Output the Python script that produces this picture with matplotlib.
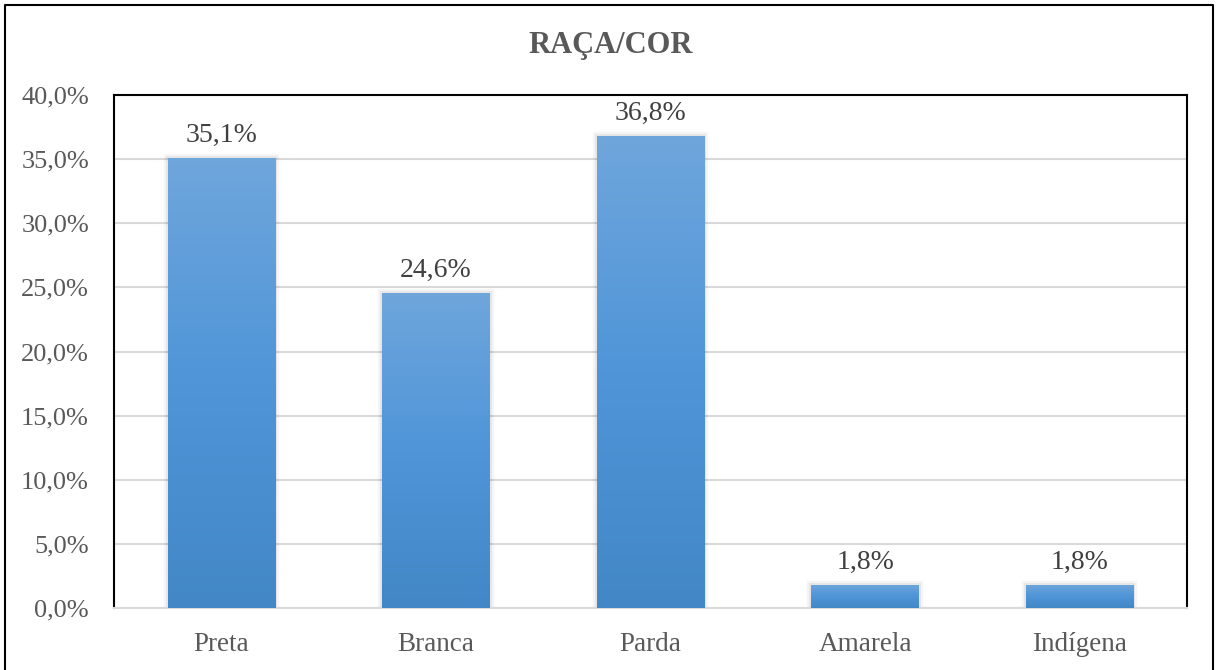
import matplotlib
matplotlib.use("Agg")
import matplotlib.pyplot as plt
import matplotlib.patheffects as pe
from matplotlib.colors import LinearSegmentedColormap
from matplotlib.lines import Line2D
import numpy as np

categories = ["Preta", "Branca", "Parda", "Amarela", "Indígena"]
values = [35.1, 24.6, 36.8, 1.8, 1.8]
yticks = [0, 5, 10, 15, 20, 25, 30, 35, 40]
title = "RAÇA/COR"

plt.rcParams['font.family'] = ['Liberation Serif', 'DejaVu Serif']
txt = '#595959'

fig = plt.figure(figsize=(12.16, 6.70), dpi=100)
ax = fig.add_axes([114/1216, 1-608/670, (1187-114)/1216, (608-95)/670])

x = np.arange(len(categories))
bars = ax.bar(x, values, width=0.5, color='#5b9bd5', zorder=2,
              path_effects=[pe.Stroke(linewidth=6, foreground='black', alpha=0.04),
                            pe.Stroke(linewidth=3, foreground='black', alpha=0.06),
                            pe.Normal()])

cmap = LinearSegmentedColormap.from_list('g', ['#4387c6', '#4f95d8', '#6fa6dc'])
grad = np.linspace(0, 1, 256).reshape(-1, 1)
for b in bars:
    x0, y0 = b.get_x(), b.get_y()
    w, h = b.get_width(), b.get_height()
    im = ax.imshow(grad, cmap=cmap, origin='lower', aspect='auto',
                   extent=[x0, x0 + w, y0, y0 + h], zorder=3)
    im.set_clip_path(b)

for b, v in zip(bars, values):
    ax.annotate(f"{v:.1f}%".replace('.', ','),
                (b.get_x() + b.get_width()/2, b.get_height()),
                xytext=(0, 11.5), textcoords='offset points',
                ha='center', va='baseline', fontsize=20, color='#404040')

ax.set_xlim(-0.5, len(categories) - 0.5)
ax.set_ylim(0, 40)
ax.set_yticks(yticks)
ax.set_yticklabels([f"{t:.1f}%".replace('.', ',') for t in yticks])
ax.set_xticks(x)
ax.set_xticklabels(categories)
ax.tick_params(axis='y', length=0, pad=18, labelsize=19, labelcolor=txt)
ax.tick_params(axis='x', length=0, pad=17, labelsize=19.5, labelcolor=txt)
ax.grid(axis='y', color='#d9d9d9', linewidth=1.5, zorder=0)
ax.set_axisbelow(True)
for s in ['left', 'top', 'right']:
    ax.spines[s].set_color('black')
    ax.spines[s].set_linewidth(1.5)
ax.spines['bottom'].set_color('#d9d9d9')
ax.spines['bottom'].set_linewidth(1.5)

fig.text(0.5 * (527 + 695) / 1216, 1 - 46/670, title, ha='center', va='center',
         fontsize=22, fontweight='bold', color=txt)

# outer chart frame
lx, rx, ty = 5/1216, 1213/1216, 1 - 5/670
fig.add_artist(Line2D([lx, lx, rx, rx], [0, ty, ty, 0], transform=fig.transFigure,
                      color='black', linewidth=1.5))

fig.savefig('out.png', dpi=100)
